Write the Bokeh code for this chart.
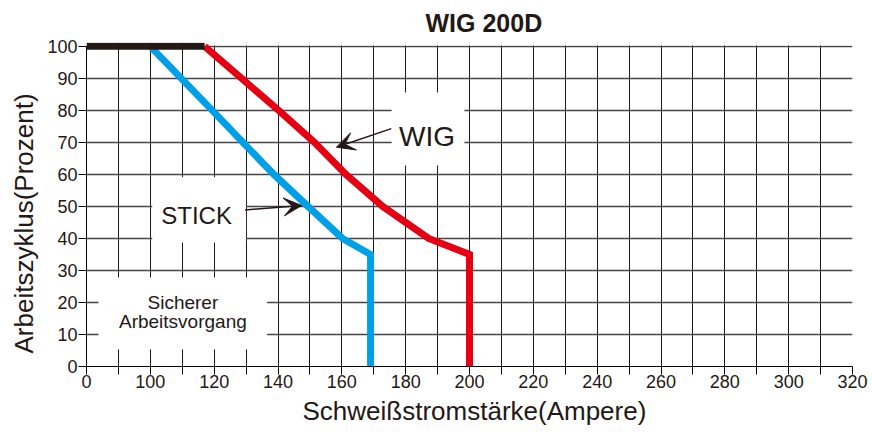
import numpy as np
from bokeh.plotting import figure
from bokeh.models import FixedTicker, Label, Arrow, VeeHead, Range1d, Title
from bokeh.embed import file_html
from bokeh.resources import INLINE

# ---------------- data ----------------
# The current axis is broken: the "0" label sits where 80 A would be.
x_tick_values = [80, 90, 100, 110, 120, 130, 140, 150, 160, 170, 180, 190, 200,
                 210, 220, 230, 240, 250, 260, 270, 280, 290, 300, 310, 320]
x_tick_labels = ["0", "", "100", "", "120", "", "140", "", "160", "", "180", "", "200",
                 "", "220", "", "240", "", "260", "", "280", "", "300", "", "320"]
y_tick_values = [0, 10, 20, 30, 40, 50, 60, 70, 80, 90, 100]

# 100 % duty cycle segment
base_x = [80, 117]
base_y = [100, 100]

# WIG (TIG) duty-cycle curve
wig_x = [117, 128.6, 140.2, 151.4, 161.3, 172.8, 187.2, 200, 200]
wig_y = [100, 90, 80, 70, 60, 50, 40, 35, 0]

# STICK (MMA) duty-cycle curve
stick_x = [100, 109.7, 119.4, 129, 138.7, 149.4, 160.2, 169, 169]
stick_y = [100, 90, 80, 70, 60, 50, 40, 35, 0]

title_text = "WIG 200D"
x_title = "Schweißstromstärke(Ampere)"
y_title = "Arbeitszyklus(Prozent)"
wig_label = "WIG"
stick_label = "STICK"
safe_label = ["Sicherer", "Arbeitsvorgang"]

# ---------------- styles ----------------
FONT = "Liberation Sans"
INK = "#231815"
RED = "#E60012"
BLUE = "#00A0E9"

p = figure(width=872, height=435,
           x_range=Range1d(80, 320), y_range=Range1d(0, 101.2),
           output_backend="svg", toolbar_location=None, title=None,
           min_border_left=86, min_border_right=20,
           min_border_top=42, min_border_bottom=69)
p.outline_line_color = None
p.background_fill_color = "white"
p.border_fill_color = "white"

xax = p.xaxis[0]
yax = p.yaxis[0]
xax.ticker = FixedTicker(ticks=x_tick_values)
xax.major_label_overrides = {v: l for v, l in zip(x_tick_values, x_tick_labels)}
yax.ticker = FixedTicker(ticks=y_tick_values)
yax.bounds = (0, 100)
for ax in (xax, yax):
    ax.major_tick_out = 8
    ax.major_tick_in = 0
    ax.minor_tick_out = 0
    ax.minor_tick_in = 0
    ax.axis_line_color = "black"
    ax.axis_line_width = 1
    ax.major_tick_line_color = "black"
    ax.major_tick_line_width = 1
    ax.major_label_text_font = FONT
    ax.major_label_text_font_size = "18px"
    ax.major_label_text_color = INK
    ax.major_label_standoff = 1
xax.major_label_standoff = 0

p.xgrid.grid_line_color = "#1a1a1a"
p.xgrid.grid_line_width = 1
p.ygrid.grid_line_color = "#444444"
p.ygrid.grid_line_width = 1.5

# titles placed in the side panels
p.add_layout(Title(text=title_text, text_font=FONT, text_font_size="25px",
                   text_font_style="bold", text_color=INK, align="left",
                   offset=339, standoff=12), "above")
p.add_layout(Title(text=x_title, text_font=FONT, text_font_size="26px",
                   text_font_style="normal", text_color=INK, align="left",
                   vertical_align="top", offset=216, standoff=11), "below")
p.add_layout(Title(text=y_title, text_font=FONT, text_font_size="26px",
                   text_font_style="normal", text_color=INK, align="left",
                   offset=13, standoff=12), "left")

# white masks: strip above the 100 % line, and boxes behind the annotations
p.quad(left=[80, 175.6, 100.6, 83.75], right=[320, 198.4, 130.0, 136.6],
       bottom=[100.3, 62.8, 38.75, 5.3], top=[101.2, 85.6, 59.1, 27.8],
       fill_color="white", line_color=None)

# curves
p.line(stick_x, stick_y, line_color=BLUE, line_width=7, line_join="miter", line_cap="butt")
p.line(wig_x, wig_y, line_color=RED, line_width=7, line_join="miter", line_cap="butt")
p.line(base_x, base_y, line_color=INK, line_width=7, line_cap="butt")

# arrows
p.add_layout(Arrow(end=VeeHead(size=18, fill_color=INK, line_color=INK, line_width=1),
                   x_start=175.5, y_start=74.3, x_end=158.3, y_end=68.5,
                   line_color=INK, line_width=1.5))
p.add_layout(Arrow(end=VeeHead(size=18, fill_color=INK, line_color=INK, line_width=1),
                   x_start=129.7, y_start=48.9, x_end=147.4, y_end=50.3,
                   line_color=INK, line_width=1.5))

def lab(x, y, text, size):
    p.add_layout(Label(x=x, y=y, text=text, text_font=FONT, text_font_size=size,
                       text_color=INK, text_align="center", text_baseline="alphabetic"))

lab(186.7, 71.9, wig_label, "28px")
lab(114.5, 47.2, stick_label, "24px")
lab(110.2, 20.1, safe_label[0], "19px")
lab(110.2, 14.2, safe_label[1], "19px")

open("out.html", "w").write(file_html(p, INLINE))
